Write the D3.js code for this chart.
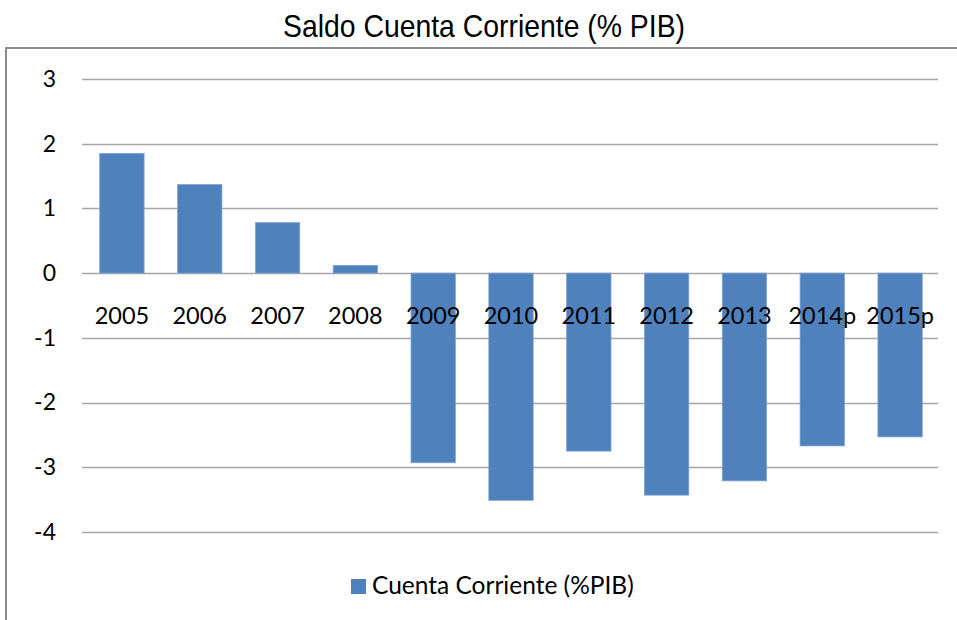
<!DOCTYPE html>
<html><head><meta charset="utf-8">
<script src="https://cdn.jsdelivr.net/npm/d3@7"></script>
<style>body{margin:0;background:#fff}svg{display:block}</style>
</head><body>
<script>
const categories = ["2005","2006","2007","2008","2009","2010","2011","2012","2013","2014p","2015p"];
const values = [1.85, 1.37, 0.78, 0.12, -2.93, -3.51, -2.75, -3.43, -3.21, -2.67, -2.53];
const yTicks = [3, 2, 1, 0, -1, -2, -3, -4];
const seriesName = "Cuenta Corriente (%PIB)";
const title = "Saldo Cuenta Corriente (% PIB)";

const W = 957, H = 620;
const svg = d3.select("body").append("svg").attr("width", W).attr("height", H);

svg.append("rect").attr("x", 6).attr("y", 48).attr("width", 1000).attr("height", 700)
  .attr("fill", "#fff").attr("stroke", "#8c8c8c").attr("stroke-width", 2);

svg.append("text").attr("x", 484).attr("y", 37).attr("text-anchor", "middle")
  .attr("textLength", 402).attr("lengthAdjust", "spacingAndGlyphs")
  .style("font-family", "'Liberation Sans Narrow','Arial Narrow','Liberation Sans',sans-serif")
  .style("font-size", "32px").attr("fill", "#000").text(title);

const x = d3.scaleBand().domain(categories).range([83, 939]).paddingInner(0.43).paddingOuter(0.215);
const y = d3.scaleLinear().domain([-4, 3]).range([532, 79]);

const grid = svg.append("g");
grid.selectAll("line").data(yTicks).join("line")
  .attr("x1", 82).attr("x2", 938)
  .attr("y1", d => Math.round(y(d)) + 0.5).attr("y2", d => Math.round(y(d)) + 0.5)
  .attr("stroke", "#a6a6a6").attr("stroke-width", 1.5);

const yAxis = d3.axisLeft(y).tickValues(yTicks).tickSize(0).tickPadding(0).tickFormat(d3.format("d"));
const ya = svg.append("g").attr("transform", "translate(56,0)").call(yAxis);
ya.select(".domain").remove();
ya.selectAll("text").style("font-family", "Lato, 'Open Sans', sans-serif").style("font-size", "23px").attr("fill", "#000")
  .text(d => d < 0 ? "-" + Math.abs(d) : d);

svg.append("g").selectAll("rect").data(values).join("rect")
  .attr("x", (d, i) => x(categories[i]))
  .attr("width", x.bandwidth())
  .attr("y", d => y(Math.max(0, d)))
  .attr("height", d => Math.abs(y(d) - y(0)))
  .attr("fill", "#4f81bd").attr("stroke", "#7ea3d3").attr("stroke-width", 0.8);

const xAxis = d3.axisBottom(x).tickSize(0).tickPadding(0);
const xa = svg.append("g").attr("transform", "translate(0,324)").call(xAxis);
xa.select(".domain").remove();
xa.selectAll("text").attr("dy", 0).attr("y", 0).style("font-family", "Lato, 'Open Sans', sans-serif").style("font-size", "23.5px").attr("fill", "#000");

const lg = svg.append("g");
lg.append("rect").attr("x", 351).attr("y", 579).attr("width", 15).attr("height", 15).attr("fill", "#4f81bd");
lg.append("text").attr("x", 372).attr("y", 594).style("font-family", "Lato, 'Open Sans', sans-serif").style("font-size", "24.5px").attr("fill", "#000").text(seriesName);
</script>
</body></html>
